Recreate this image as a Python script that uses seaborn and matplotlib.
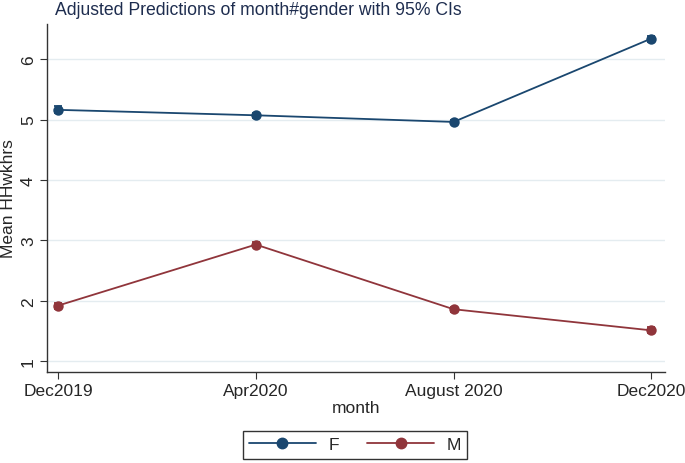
import numpy as np
import pandas as pd
import matplotlib
matplotlib.use('Agg')
import matplotlib.pyplot as plt
import seaborn as sns
from matplotlib.lines import Line2D

# Data
months = ['Dec2019', 'Apr2020', 'August 2020', 'Dec2020']
f_mean = [5.16, 5.07, 4.96, 6.34]
m_mean = [1.92, 2.93, 1.86, 1.51]
f_ci = [0.06, 0.04, 0.04, 0.05]
m_ci = [0.05, 0.04, 0.04, 0.05]

navy = '#1a476f'
maroon = '#90353b'

sns.set_style('white')
plt.rcParams['font.family'] = ['Liberation Sans', 'DejaVu Sans']

df = pd.DataFrame({
    'month': months * 2,
    'pos': list(range(len(months))) * 2,
    'HHwkhrs': f_mean + m_mean,
    'ci': f_ci + m_ci,
    'gender': ['F'] * len(months) + ['M'] * len(months),
})

fig = plt.figure(figsize=(6.85, 4.64), dpi=100)
ax = fig.add_axes([0.0686, 0.196, 0.9024, 0.75])

palette = {'F': navy, 'M': maroon}
sns.lineplot(data=df, x='pos', y='HHwkhrs', hue='gender', palette=palette,
             marker='o', markersize=7.5, markeredgewidth=0, linewidth=1.3,
             ax=ax, legend=False)
for g, sub in df.groupby('gender'):
    ax.errorbar(sub['pos'], sub['HHwkhrs'], yerr=sub['ci'], fmt='none',
                ecolor=palette[g], elinewidth=1.3, capsize=3, capthick=1.3)

ax.set_xlim(-0.056, 3.07)
ax.set_ylim(0.82, 6.58)
ax.set_xticks(range(len(months)))
ax.set_xticklabels(months, fontsize=12.5)
ax.set_yticks([1, 2, 3, 4, 5, 6])
ax.set_yticklabels(['1', '2', '3', '4', '5', '6'], fontsize=12.5, rotation=90, va='center')
ax.yaxis.grid(True, color='#e4ecf0', linewidth=1)
ax.set_axisbelow(True)
for s in ['top', 'right']:
    ax.spines[s].set_visible(False)
for s in ['left', 'bottom']:
    ax.spines[s].set_color('#333333')
    ax.spines[s].set_linewidth(1)
ax.tick_params(axis='both', direction='out', length=5, color='#333333', left=True, bottom=True, pad=3)
ax.set_xlabel('month', fontsize=12.5, labelpad=1)
ax.set_ylabel('')
fig.text(9 / 685, 1 - 199 / 464, 'Mean HHwkhrs', fontsize=12.5, rotation=90,
         ha='center', va='center')

fig.text(0.08, 0.996, 'Adjusted Predictions of month#gender with 95% CIs',
         fontsize=12.7, color='#1e2d4f', ha='left', va='top')

handles = [Line2D([0], [0], color=navy, marker='o', markersize=7.5, linewidth=1.3),
           Line2D([0], [0], color=maroon, marker='o', markersize=7.5, linewidth=1.3)]
leg = fig.legend(handles, ['F', 'M'], loc='center', bbox_to_anchor=(0.518, 0.039),
                 ncol=2, frameon=True, fancybox=False, fontsize=12.5,
                 handlelength=3.9, handletextpad=0.7, columnspacing=1.6, borderpad=0.35)
leg.get_frame().set_edgecolor('black')
leg.get_frame().set_linewidth(1)

fig.savefig('out.png', dpi=100)
